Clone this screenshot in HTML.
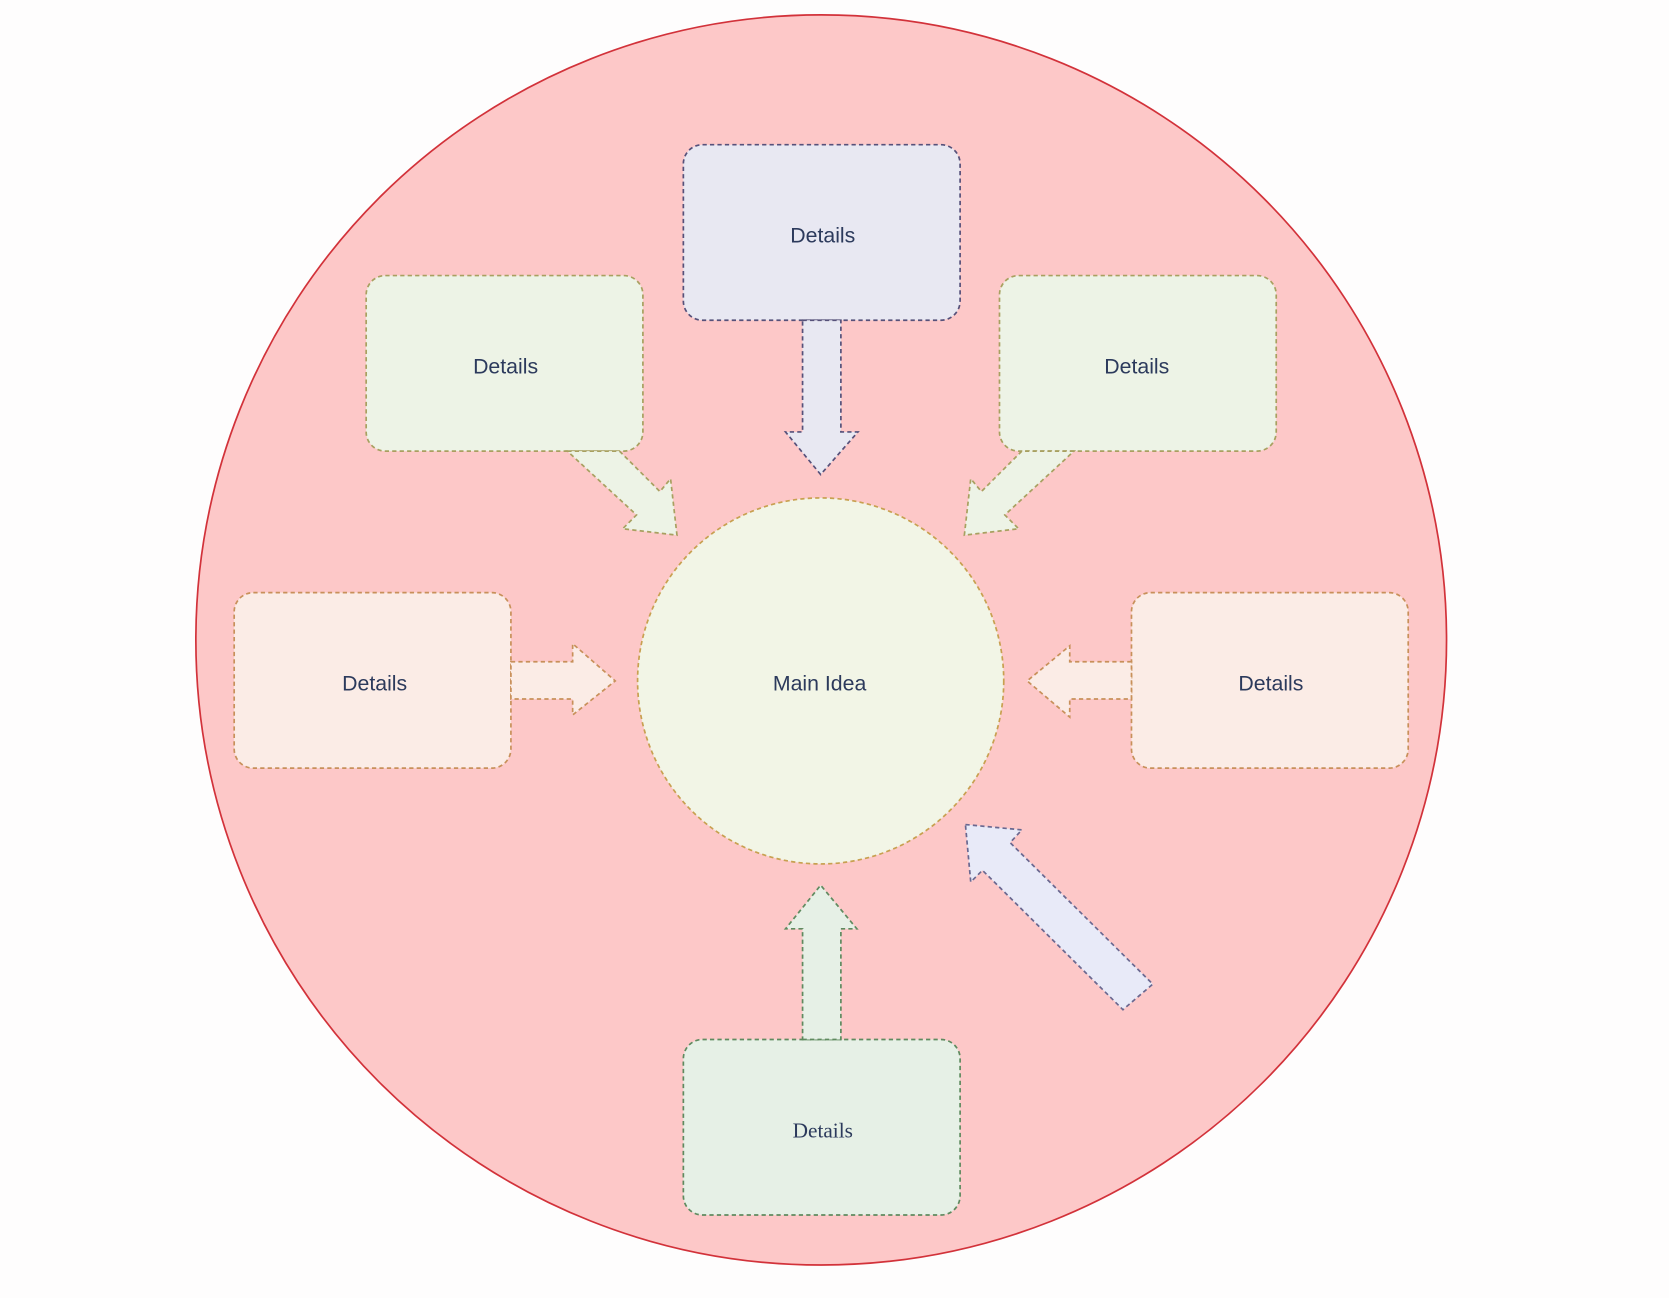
<!DOCTYPE html>
<html><head><meta charset="utf-8"><style>html,body{margin:0;padding:0;background:#fefdfd;}svg{display:block}</style></head>
<body>
<svg width="1669" height="1298" viewBox="0 0 1568 1220" preserveAspectRatio="none" xmlns="http://www.w3.org/2000/svg">
<rect width="1568" height="1220" fill="#fefdfd"/>
<ellipse cx="771.5" cy="601.5" rx="587.5" ry="587.5" fill="#fdc8c8" stroke="#d2323a" stroke-width="1.6"/>
<g stroke-dasharray="4 3" stroke-width="1.6" font-family="Liberation Sans, sans-serif" font-size="20" fill="#2c3a5c" text-anchor="middle">
<rect x="642" y="136" width="260" height="165" rx="18" fill="#e8e8f2" stroke="#56517a"/>
<rect x="344" y="259" width="260" height="165" rx="18" fill="#edf3e6" stroke="#a8a060"/>
<rect x="939" y="259" width="260" height="165" rx="18" fill="#edf3e6" stroke="#a8a060"/>
<rect x="220" y="557" width="260" height="165" rx="18" fill="#fbece6" stroke="#c8905a"/>
<rect x="1063" y="557" width="260" height="165" rx="18" fill="#fbece6" stroke="#c8905a"/>
<rect x="642" y="977" width="260" height="165" rx="18" fill="#e6f0e6" stroke="#5f8a5f"/>
<circle cx="771" cy="640" r="172" fill="#f2f5e6" stroke="#c8a050"/>
<polygon points="754,301 790,301 790,406 806,406 771,446 738,406 754,406" fill="#e8e8f2" stroke="#56517a"/>
<polygon points="533,424 582,424 620,462 630,450 636,503 585,497 598,484" fill="#edf3e6" stroke="#a8a060"/>
<polygon points="1009,424 960,424 922,462 912,450 906,503 957,497 944,484" fill="#edf3e6" stroke="#a8a060"/>
<polygon points="480,622 538,622 538,605 578,640 538,672 538,657 480,657" fill="#fbece6" stroke="#c8905a"/>
<polygon points="1063,622 1005,622 1005,607 965,640 1005,674 1005,657 1063,657" fill="#fbece6" stroke="#c8905a"/>
<polygon points="754,977 790,977 790,873 805,873 771,832 738,873 754,873" fill="#e6f0e6" stroke="#5f8a5f"/>
<polygon points="907,775 960,780 949,792 1083,925 1055,949 923,818 912,829" fill="#e8eaf8" stroke="#6a6890"/>
<g stroke="none">
<text x="773" y="228">Details</text>
<text x="475" y="351">Details</text>
<text x="1068" y="351">Details</text>
<text x="352" y="649">Details</text>
<text x="1194" y="649">Details</text>
<text x="770" y="649">Main Idea</text>
<text x="773" y="1069" font-family="Liberation Serif, serif">Details</text>
</g>
</g>
</svg>
</body></html>
